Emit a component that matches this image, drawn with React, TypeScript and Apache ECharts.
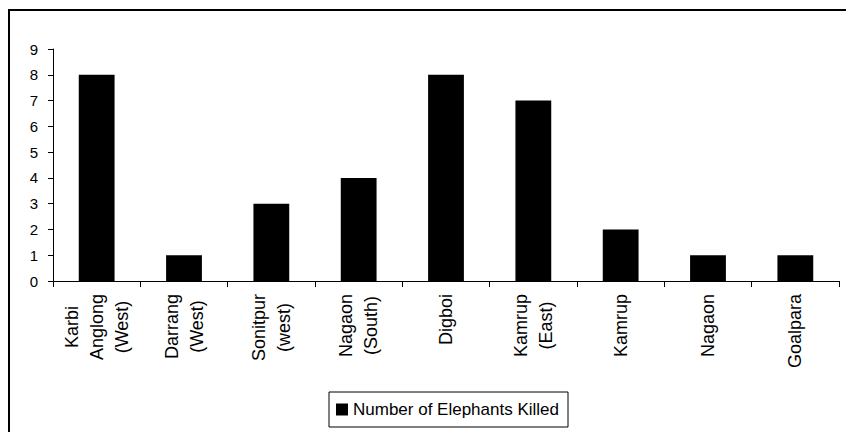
import React, { useEffect, useRef } from "react";
import * as echarts from "echarts";

const categories: string[] = [
  "Karbi\nAnglong\n(West)",
  "Darrang\n(West)",
  "Sonitpur\n(west)",
  "Nagaon\n(South)",
  "Digboi",
  "Kamrup\n(East)",
  "Kamrup",
  "Nagaon",
  "Goalpara",
];
const elephantsKilled: number[] = [8, 1, 3, 4, 8, 7, 2, 1, 1];
const seriesName = "Number of Elephants Killed";
const yTicks = { min: 0, max: 9, interval: 1 };

const FONT = "'Liberation Sans', Arial, sans-serif";
const X_FONT_SIZE = 18;

export default function App() {
  const ref = useRef<HTMLDivElement>(null);
  useEffect(() => {
    if (!ref.current) return;
    const chart = echarts.init(ref.current, null, { renderer: "svg" });

    // measure line widths so that each line of a multi-line label is centred
    const ctx = document.createElement("canvas").getContext("2d")!;
    ctx.font = `${X_FONT_SIZE}px ${FONT}`;
    const rich: Record<string, any> = {};
    const formatted: Record<string, string> = {};
    categories.forEach((cat, ci) => {
      const lines = cat.split("\n");
      const widths = lines.map((l) => ctx.measureText(l).width);
      const maxW = Math.max(...widths);
      formatted[cat] = lines
        .map((l, li) => {
          const name = `c${ci}_${li}`;
          const pad = (maxW - widths[li]) / 2;
          rich[name] = {
            fontFamily: FONT,
            fontSize: X_FONT_SIZE,
            lineHeight: 25,
            color: "#000",
            padding: [0, pad, 0, pad],
          };
          return `{${name}|${l}}`;
        })
        .join("\n");
    });

    chart.setOption({
      animation: false,
      backgroundColor: "#ffffff",
      graphic: [
        {
          type: "rect",
          shape: { x: 9, y: 10, width: 900, height: 500 },
          style: { fill: "none", stroke: "#000", lineWidth: 2 },
          silent: true,
        },
      ],
      grid: { left: 53, right: 7, top: 49, bottom: 151, containLabel: false },
      legend: {
        data: [seriesName],
        left: 329,
        top: 392,
        orient: "horizontal",
        borderColor: "#000",
        borderWidth: 1,
        padding: [9, 9, 9, 7],
        itemWidth: 12,
        itemHeight: 12,
        icon: "rect",
        textStyle: { fontFamily: FONT, fontSize: 17, color: "#000" },
      },
      xAxis: {
        type: "category",
        data: categories,
        boundaryGap: true,
        axisLine: { show: true, lineStyle: { color: "#000", width: 1 } },
        axisTick: { show: true, length: 6, alignWithLabel: false, lineStyle: { color: "#000" } },
        axisLabel: {
          interval: 0,
          rotate: 90,
          margin: 13,
          color: "#000",
          fontFamily: FONT,
          fontSize: X_FONT_SIZE,
          formatter: (v: string) => formatted[v] ?? v,
          rich,
        },
        splitLine: { show: false },
      },
      yAxis: {
        type: "value",
        min: yTicks.min,
        max: yTicks.max,
        interval: yTicks.interval,
        axisLine: { show: true, lineStyle: { color: "#000", width: 1 } },
        axisTick: { show: true, length: 5, lineStyle: { color: "#000" } },
        axisLabel: { margin: 15, color: "#000", fontFamily: FONT, fontSize: 15 },
        splitLine: { show: false },
      },
      series: [
        {
          name: seriesName,
          type: "bar",
          data: elephantsKilled,
          barWidth: "41%",
          itemStyle: { color: "#000" },
        },
      ],
    });
    return () => chart.dispose();
  }, []);
  return (
    <div
      ref={ref}
      style={{ position: "fixed", left: 0, top: 0, width: 846, height: 432 }}
    />
  );
}
